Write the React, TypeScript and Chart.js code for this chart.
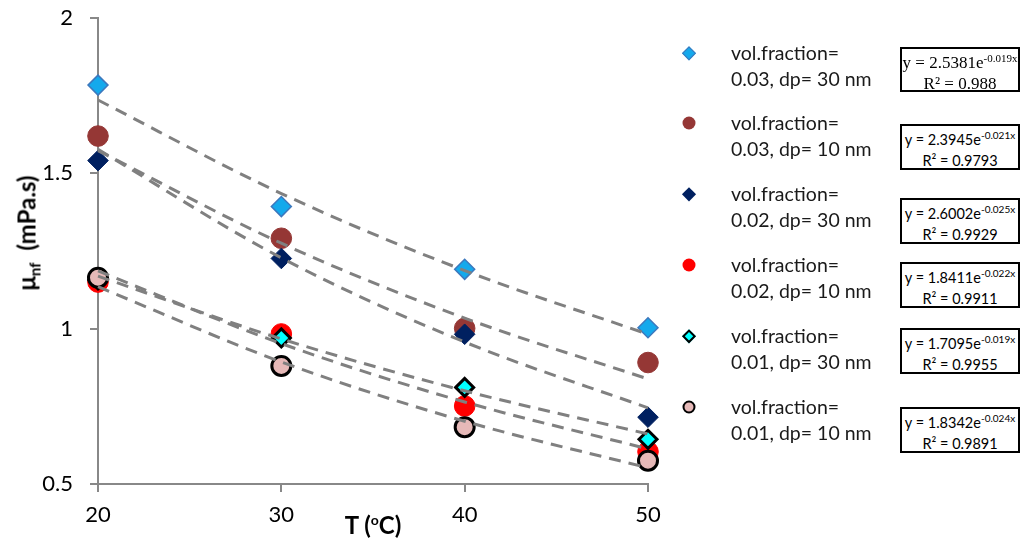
import React, { useEffect, useRef } from "react";
import { Chart, registerables } from "chart.js";

Chart.register(...registerables);

// ---- data ----
const temps = [20, 30, 40, 50];
const xTicks = [20, 30, 40, 50];
const yTicks = [0.5, 1, 1.5, 2];

const s03_30 = [1.784, 1.393, 1.191, 1.003];
const s03_10 = [1.62, 1.291, 1.001, 0.891];
const s02_30 = [1.541, 1.226, 0.982, 0.715];
const s02_10 = [1.15, 0.983, 0.751, 0.604];
const s01_30 = [1.157, 0.97, 0.811, 0.644];
const s01_10 = [1.164, 0.88, 0.683, 0.575];

// trend lines read from the printed fits (values at 20, 30, 40, 50 °C)
const t03_30 = [1.736, 1.435, 1.187, 0.982];
const t03_10 = [1.573, 1.275, 1.034, 0.838];
const t02_30 = [1.577, 1.228, 0.957, 0.745];
const t02_10 = [1.186, 0.952, 0.764, 0.613];
const t01_30 = [1.169, 0.967, 0.8, 0.661];
const t01_10 = [1.135, 0.893, 0.702, 0.552];

const legendLine1 = "vol.fraction=";
const legendLine2 = [
  "0.03, dp= 30 nm",
  "0.03, dp= 10 nm",
  "0.02, dp= 30 nm",
  "0.02, dp= 10 nm",
  "0.01, dp= 30 nm",
  "0.01, dp= 10 nm",
];
const eqCoef = ["2.5381", "2.3945", "2.6002", "1.8411", "1.7095", "1.8342"];
const eqExp = ["-0.019x", "-0.021x", "-0.025x", "-0.022x", "-0.019x", "-0.024x"];
const eqR2 = ["0.988", "0.9793", "0.9929", "0.9911", "0.9955", "0.9891"];

const seriesValues = [s03_30, s03_10, s02_30, s02_10, s01_30, s01_10];
const trendValues = [t03_30, t03_10, t02_30, t02_10, t01_30, t01_10];

// ---- styles ----
const markerStyles = [
  { pointStyle: "rectRot", radius: 10, bg: "#14A9EC", border: "#3D78BD", bw: 1.5 },
  { pointStyle: "circle", radius: 10.3, bg: "#953735", border: "#953735", bw: 1 },
  { pointStyle: "rectRot", radius: 10.3, bg: "#002060", border: "#002060", bw: 1 },
  { pointStyle: "circle", radius: 10.3, bg: "#FF0000", border: "#FF0000", bw: 1 },
  { pointStyle: "rectRot", radius: 9, bg: "#00FFFF", border: "#000000", bw: 3 },
  { pointStyle: "circle", radius: 9.5, bg: "#E6B9B8", border: "#000000", bw: 3 },
];

const legendY = [53, 123, 194, 265, 336, 407];
const boxTop = [47, 124, 198, 262, 328, 407];

const FONT = "Lato, 'Open Sans', sans-serif";

function LegendMarker({ i, y }: { i: number; y: number }) {
  const m = markerStyles[i];
  const isDiamond = m.pointStyle === "rectRot";
  const size = isDiamond ? 9.5 : 13;
  const bw = m.bw >= 3 ? 2.5 : m.bw >= 1.5 ? 1 : 0;
  const style: React.CSSProperties = {
    position: "absolute",
    left: 689,
    top: y,
    width: size,
    height: size,
    boxSizing: "border-box",
    background: m.bg,
    border: bw ? `${bw}px solid ${m.border}` : "none",
    borderRadius: isDiamond ? 0 : "50%",
    transform: `translate(-50%, -50%)${isDiamond ? " rotate(45deg)" : ""}`,
  };
  return <div style={style} />;
}

export default function App() {
  const canvasRef = useRef<HTMLCanvasElement | null>(null);

  useEffect(() => {
    const canvas = canvasRef.current;
    if (!canvas) return;

    const datasets: any[] = [];
    trendValues.forEach((vals, i) => {
      datasets.push({
        label: "trend " + i,
        data: temps.map((x, j) => ({ x, y: vals[j] })),
        showLine: true,
        borderColor: "#808080",
        borderWidth: 3,
        borderDash: [12, 8],
        pointRadius: 0,
        pointHoverRadius: 0,
        fill: false,
        cubicInterpolationMode: "monotone",
        order: 0,
        clip: false,
      });
    });
    seriesValues.forEach((vals, i) => {
      const m = markerStyles[i];
      datasets.push({
        label: legendLine1 + " " + legendLine2[i],
        data: temps.map((x, j) => ({ x, y: vals[j] })),
        showLine: false,
        pointStyle: m.pointStyle,
        pointRadius: m.radius,
        pointHoverRadius: m.radius,
        backgroundColor: m.bg,
        borderColor: m.border,
        pointBorderWidth: m.bw,
        borderWidth: m.bw,
        order: 10 - i,
        clip: false,
      });
    });

    const chart = new Chart(canvas, {
      type: "scatter",
      data: { datasets },
      options: {
        animation: false,
        responsive: false,
        events: [],
        layout: { padding: { top: 18, right: 377, left: 0, bottom: 0 } },
        plugins: { legend: { display: false }, tooltip: { enabled: false } },
        scales: {
          x: {
            type: "linear",
            min: 20,
            max: 50,
            afterBuildTicks: (s: any) => {
              s.ticks = xTicks.map((v) => ({ value: v }));
            },
            afterFit: (s: any) => {
              s.height = 59;
            },
            ticks: {
              font: { family: FONT, size: 22 },
              color: "#000000",
              padding: 10,
              maxRotation: 0,
              callback: (v: any) => String(v),
            },
            grid: {
              drawOnChartArea: false,
              drawTicks: true,
              tickLength: 8,
              color: "#888888",
              lineWidth: 2,
            },
            border: { color: "#888888", width: 2 },
          },
          y: {
            type: "linear",
            min: 0.5,
            max: 2,
            afterBuildTicks: (s: any) => {
              s.ticks = yTicks.map((v) => ({ value: v }));
            },
            afterFit: (s: any) => {
              s.width = 98;
              s.paddingTop = 0;
              s.paddingBottom = 0;
            },
            ticks: {
              font: { family: FONT, size: 22 },
              color: "#000000",
              padding: 17,
              callback: (v: any) => String(v),
            },
            grid: {
              drawOnChartArea: false,
              drawTicks: true,
              tickLength: 8,
              color: "#888888",
              lineWidth: 2,
            },
            border: { color: "#888888", width: 2 },
          },
        },
      } as any,
    });
    return () => chart.destroy();
  }, []);

  return (
    <div
      style={{
        position: "fixed",
        left: 0,
        top: 0,
        width: 1025,
        height: 543,
        background: "#ffffff",
        overflow: "hidden",
        fontFamily: FONT,
      }}
    >
      <canvas ref={canvasRef} width={1025} height={543} style={{ position: "absolute", left: 0, top: 0 }} />

      {/* Y axis title */}
      <div
        style={{
          position: "absolute",
          left: 28,
          top: 233,
          transform: "translate(-50%, -50%) rotate(-90deg)",
          whiteSpace: "nowrap",
          fontWeight: 700,
          fontSize: 24,
          color: "#000",
          lineHeight: "28px",
        }}
      >
        μ<span style={{ fontSize: 15, position: "relative", top: 5 }}>nf</span>
        {"\u00a0\u00a0(mPa.s)"}
      </div>

      {/* X axis title */}
      <div
        style={{
          position: "absolute",
          left: 373,
          top: 527,
          transform: "translate(-50%, -50%)",
          whiteSpace: "nowrap",
          fontWeight: 700,
          fontSize: 24,
          color: "#000",
          lineHeight: "28px",
        }}
      >
        T (<span style={{ fontSize: 14, position: "relative", top: -9 }}>o</span>C)
      </div>

      {/* legend */}
      {legendLine2.map((txt, i) => (
        <React.Fragment key={i}>
          <LegendMarker i={i} y={legendY[i]} />
          <div
            style={{
              position: "absolute",
              left: 731,
              top: legendY[i] - 13.5,
              fontSize: 19.5,
              lineHeight: "26px",
              color: "#1a1a1a",
              whiteSpace: "nowrap",
            }}
          >
            <div>{legendLine1}</div>
            <div>{txt}</div>
          </div>
          <div
            style={{
              position: "absolute",
              left: 900,
              top: boxTop[i],
              width: 120,
              height: i === 0 ? 45 : 46,
              boxSizing: "border-box",
              border: "2px solid #000",
              background: "#fff",
              textAlign: "center",
              paddingTop: 4,
              lineHeight: "19px",
              color: "#000",
              whiteSpace: "nowrap",
              fontFamily: i === 0 ? "'Liberation Serif', 'DejaVu Serif', serif" : FONT,
              fontSize: i === 0 ? 17 : 14.5,
            }}
          >
            <div>
              y = {eqCoef[i]}e
              <span style={{ fontSize: i === 0 ? 11 : 10, position: "relative", top: -6 }}>{eqExp[i]}</span>
            </div>
            <div>R² = {eqR2[i]}</div>
          </div>
        </React.Fragment>
      ))}
    </div>
  );
}
